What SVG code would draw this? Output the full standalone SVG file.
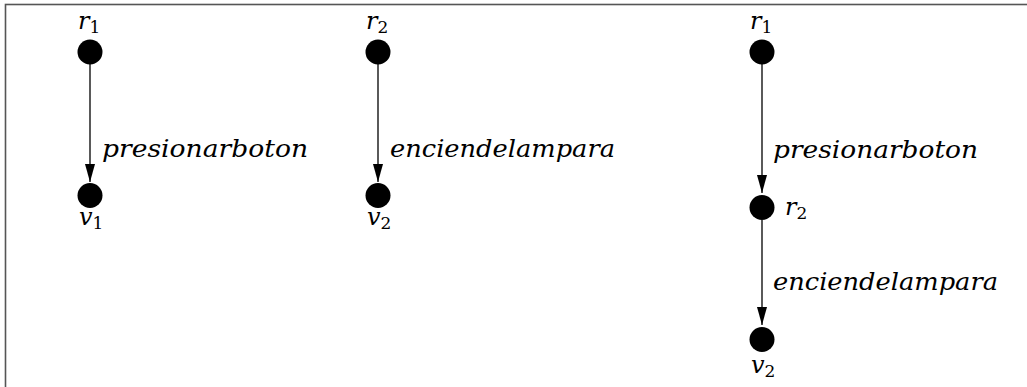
<svg xmlns="http://www.w3.org/2000/svg" width="1027" height="387" viewBox="0 0 1027 387">
<defs>
<marker id="ah" markerUnits="userSpaceOnUse" markerWidth="18" markerHeight="10" refX="18" refY="5" orient="auto" viewBox="0 0 18 10">
<path d="M0,0 L18,5 L0,10 z" fill="#000"/>
</marker>
</defs>
<rect x="5.5" y="4.5" width="1030" height="400" fill="#fff" stroke="#555" stroke-width="1.6"/>
<g id="connectors" stroke="#000" stroke-width="1.3" fill="none" marker-end="url(#ah)">
<path d="M90,64 L90,182"/>
<path d="M378,64 L378,182"/>
<path d="M762,64 L762,193"/>
<path d="M762,220 L762,325"/>
</g>
<g id="edge-labels" font-family="'DejaVu Serif', serif" font-size="24" font-style="italic" fill="#000">
<text x="102" y="157" textLength="206" lengthAdjust="spacingAndGlyphs">presionarboton</text>
<text x="390" y="157" textLength="225" lengthAdjust="spacingAndGlyphs">enciendelampara</text>
<text x="773" y="158" textLength="205" lengthAdjust="spacingAndGlyphs">presionarboton</text>
<text x="773" y="290" textLength="225" lengthAdjust="spacingAndGlyphs">enciendelampara</text>
</g>
<g font-family="'DejaVu Serif', serif" font-size="24" fill="#000">
<g id="a_r1">
<circle cx="90" cy="52" r="12.5"/>
<text x="78" y="29"><tspan font-style="italic">r</tspan><tspan font-size="17" dy="4">1</tspan></text>
</g>
<g id="a_v1">
<circle cx="90" cy="195.5" r="12.5"/>
<text x="79" y="225"><tspan font-style="italic">v</tspan><tspan font-size="17" dy="4">1</tspan></text>
</g>
<g id="b_r2">
<circle cx="378" cy="52" r="12.5"/>
<text x="366" y="29"><tspan font-style="italic">r</tspan><tspan font-size="17" dy="4">2</tspan></text>
</g>
<g id="b_v2">
<circle cx="378" cy="195.5" r="12.5"/>
<text x="367" y="225"><tspan font-style="italic">v</tspan><tspan font-size="17" dy="4">2</tspan></text>
</g>
<g id="c_r1">
<circle cx="762" cy="52" r="12.5"/>
<text x="750" y="29"><tspan font-style="italic">r</tspan><tspan font-size="17" dy="4">1</tspan></text>
</g>
<g id="c_r2">
<circle cx="762" cy="207.5" r="12.5"/>
<text x="785" y="215"><tspan font-style="italic">r</tspan><tspan font-size="17" dy="4">2</tspan></text>
</g>
<g id="c_v2">
<circle cx="762" cy="339.5" r="12.5"/>
<text x="751" y="373"><tspan font-style="italic">v</tspan><tspan font-size="17" dy="4">2</tspan></text>
</g>
</g>
</svg>
